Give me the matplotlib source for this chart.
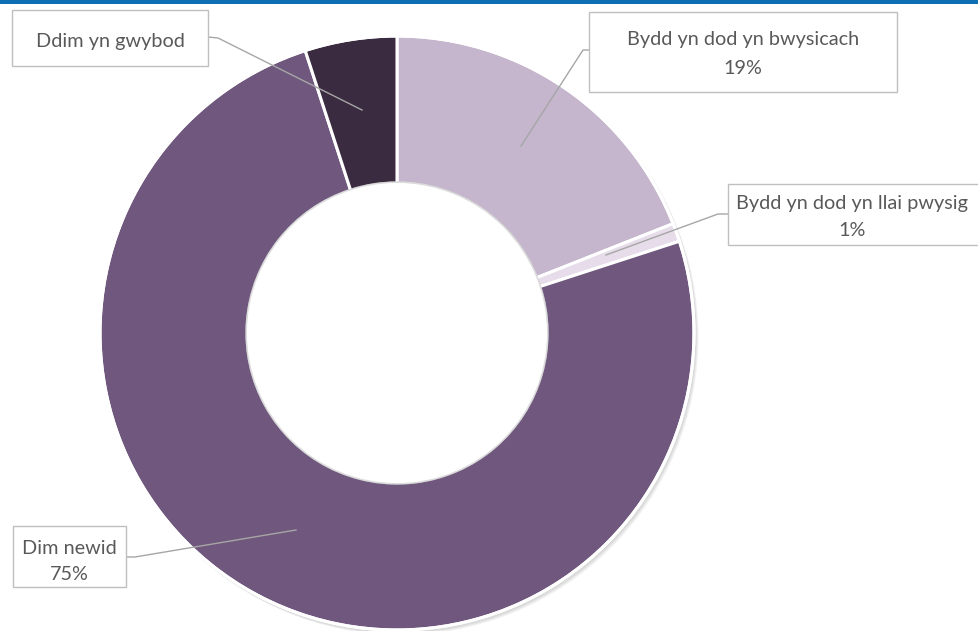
import matplotlib
matplotlib.use("Agg")
import matplotlib.pyplot as plt
from matplotlib.patches import Rectangle, Circle

categories = ["Bydd yn dod yn bwysicach", "Bydd yn dod yn llai pwysig", "Dim newid", "Ddim yn gwybod"]
values = [19, 1, 75, 5]
pct_labels = ["19%", "1%", "75%", None]
colors = ["#C5B6CD", "#E6DCEA", "#6F577D", "#3A2B40"]

W, H = 979, 631
fig = plt.figure(figsize=(W / 100, H / 100), dpi=100)
ax = fig.add_axes([0, 0, 1, 1])

def py(y):
    return H - y

cx, cy, R = 397, py(333), 297
hole = 150

# soft shadow behind ring
for i, a in enumerate([0.05, 0.05, 0.05]):
    ax.add_patch(Circle((cx + 1.5 + i, cy - 2 - i), R + 1, color="black", alpha=a, lw=0, zorder=1))

wedges, _ = ax.pie(values, colors=colors, startangle=90, counterclock=False,
                   center=(cx, cy), radius=R, frame=True,
                   wedgeprops=dict(width=R - hole, edgecolor="white", linewidth=2.2))
for w in wedges:
    w.set_zorder(2)
ax.add_patch(Circle((cx, cy), R, fill=False, ec="white", lw=2.2, zorder=3))
ax.add_patch(Circle((cx, cy), hole, fill=False, ec="#BBBBBB", lw=2.5, alpha=0.5, zorder=3))
ax.add_patch(Circle((cx, cy), hole - 1, fill=True, fc="white", ec="white", lw=1.5, zorder=3))
ax.set_xlim(0, W)
ax.set_ylim(0, H)
ax.set_aspect("equal")
ax.axis("off")

# top blue line
ax.add_patch(Rectangle((0, py(3.5)), W, 3.5, color="#0F6FB4", lw=0, zorder=5, clip_on=False))

font = dict(family=["Lato", "DejaVu Sans"], size=14.3, color="#595959")
lc = "#A6A6A6"

labels = [
    dict(box=(589, 12, 897, 92), lines=[(categories[0], 743, 39), (pct_labels[0], 743, 68)],
         leader=[(589, 50), (583, 50), (521, 146)]),
    dict(box=(728, 184, 990, 245), lines=[(categories[1], 852, 203), (pct_labels[1], 852, 230)],
         leader=[(728, 214), (718, 214), (606, 255)]),
    dict(box=(13, 526, 126, 587), lines=[(categories[2], 69, 548), (pct_labels[2], 69, 575)],
         leader=[(126, 557), (135, 557), (296, 530)]),
    dict(box=(12, 10, 208, 66), lines=[(categories[3], 110, 42)],
         leader=[(208, 37), (218, 38), (362, 110)]),
]

for lab in labels:
    x0, y0, x1, y1 = lab["box"]
    ax.add_patch(Rectangle((x0, py(y1)), x1 - x0, y1 - y0, fc="white", ec="#BFBFBF",
                           lw=1.0, zorder=6, clip_on=False))
    for txt, tx, ty in lab["lines"]:
        ax.text(tx, py(ty), txt, ha="center", va="center", zorder=7, **font)
    xs = [p[0] for p in lab["leader"]]
    ys = [py(p[1]) for p in lab["leader"]]
    ax.plot(xs, ys, color=lc, lw=1.0, zorder=5.5)

fig.savefig("out.png", dpi=100, facecolor="white")
